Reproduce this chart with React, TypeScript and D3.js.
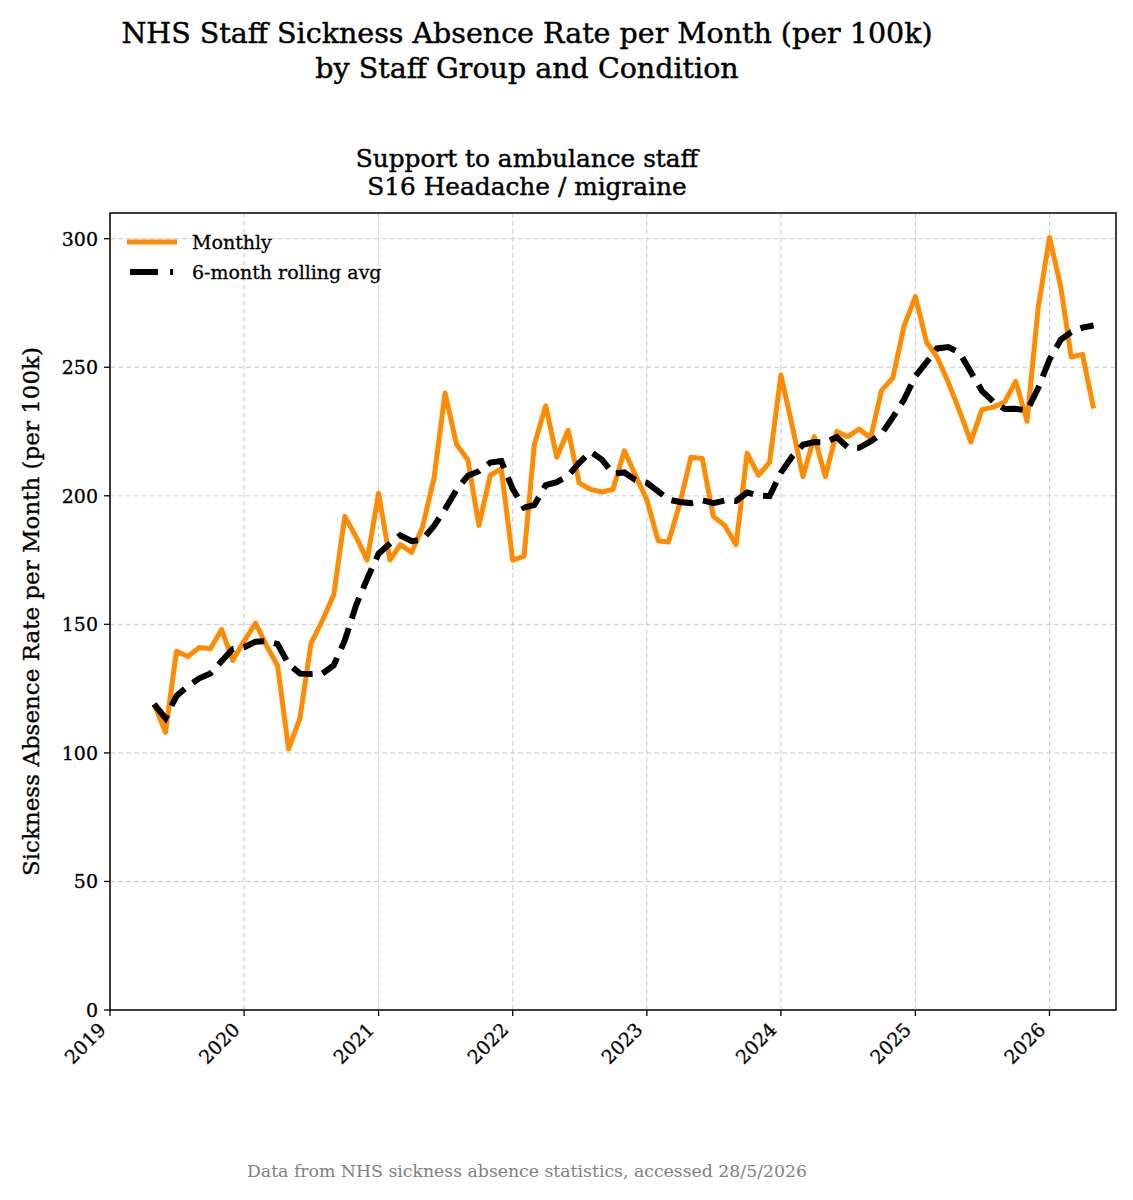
import React from "react";
import * as d3 from "d3";

const START_YEAR = 2019;
const START_MONTH = 4; // May (0-based)
const monthly: number[] = [
  119, 108, 139.5, 137.5, 141, 140.5, 148, 136, 143.5, 150.5, 142, 134,
  101.5, 113.5, 142.5, 151.5, 161.5, 192, 184, 175, 201, 175, 181, 178,
  188, 207, 240, 220, 214, 188.5, 208, 210.5, 175, 176.5, 220, 235,
  215, 225.5, 205, 202.5, 201.5, 202.5, 217.5, 208, 198.5, 182.5, 182, 197,
  215, 214.5, 192, 188.5, 181, 216.5, 208, 213, 247, 227, 207.5, 223,
  207.5, 225, 223, 226, 222.5, 241, 246, 266, 277.5, 259.5, 254, 244,
  233, 221, 233.5, 234.5, 236.5, 244.5, 229, 273, 300.5, 281, 254, 255,
  234,
];
const yTicks: number[] = [0, 50, 100, 150, 200, 250, 300];
const xTickYears: number[] = [2019, 2020, 2021, 2022, 2023, 2024, 2025, 2026];
const ROLL_WINDOW = 6;

const FONT = "'DejaVu Serif', serif";

export default function App() {
  const W = 1133;
  const H = 1200;
  const L = 110, R = 1116, T = 213, B = 1010;

  const dates = monthly.map((_, i) => new Date(START_YEAR, START_MONTH + i, 1));
  const rolling = monthly.map((_, i) => {
    const s = Math.max(0, i - ROLL_WINDOW + 1);
    const w = monthly.slice(s, i + 1);
    return d3.mean(w) as number;
  });

  const x = d3.scaleTime().domain([new Date(2019, 0, 1), new Date(2026, 6, 1)]).range([L, R]);
  const y = d3.scaleLinear().domain([0, 310]).range([B, T]);

  const line = d3
    .line<number>()
    .x((_, i) => x(dates[i]))
    .y((d) => y(d));

  const monthlyPath = line(monthly) || "";
  const rollingPath = line(rolling) || "";

  const gridColor = "#cccccc";
  const heavy = { stroke: "#000", strokeWidth: 0.45 };

  return (
    <svg
      width={W}
      height={H}
      style={{ position: "absolute", left: 0, top: 0, background: "#fff" }}
      fontFamily={FONT}
    >
      <rect x={0} y={0} width={W} height={H} fill="#fff" />
      {/* Titles */}
      <text x={527} y={43} textAnchor="middle" fontSize={28.5} fill="#000" {...heavy}>
        NHS Staff Sickness Absence Rate per Month (per 100k)
      </text>
      <text x={527} y={78} textAnchor="middle" fontSize={28.5} fill="#000" {...heavy}>
        by Staff Group and Condition
      </text>
      <text x={527} y={167} textAnchor="middle" fontSize={24.8} fill="#000" {...heavy}>
        Support to ambulance staff
      </text>
      <text x={527} y={195} textAnchor="middle" fontSize={24.8} fill="#000" {...heavy}>
        S16 Headache / migraine
      </text>

      {/* Grid */}
      <g>
        {yTicks.map((t) => (
          <line key={"gy" + t} x1={L} x2={R} y1={y(t)} y2={y(t)} stroke={gridColor} strokeWidth={1} strokeDasharray="5,3" />
        ))}
        {xTickYears.map((yr) => (
          <line key={"gx" + yr} x1={x(new Date(yr, 0, 1))} x2={x(new Date(yr, 0, 1))} y1={T} y2={B} stroke={gridColor} strokeWidth={1} strokeDasharray="5,3" />
        ))}
      </g>

      {/* Lines */}
      <path d={monthlyPath} fill="none" stroke="#FF8C00" strokeWidth={5} strokeLinejoin="round" />
      <path d={rollingPath} fill="none" stroke="#000" strokeWidth={6} strokeDasharray="22,10" />

      {/* Frame */}
      <rect x={L} y={T} width={R - L} height={B - T} fill="none" stroke="#000" strokeWidth={1.5} />

      {/* Y axis */}
      {yTicks.map((t) => (
        <g key={"ty" + t}>
          <line x1={L - 6} x2={L} y1={y(t)} y2={y(t)} stroke="#000" strokeWidth={1.3} />
          <text x={L - 12} y={y(t)} dy="0.36em" textAnchor="end" fontSize={19} fill="#000" {...heavy} strokeWidth={0.3}>
            {t}
          </text>
        </g>
      ))}
      {/* X axis */}
      {xTickYears.map((yr) => {
        const xp = x(new Date(yr, 0, 1));
        return (
          <g key={"tx" + yr}>
            <line x1={xp} x2={xp} y1={B} y2={B + 6} stroke="#000" strokeWidth={1.3} />
            <text
              transform={`translate(${xp - 3},${B + 21}) rotate(-45)`}
              textAnchor="end"
              fontSize={19}
              fill="#000"
              {...heavy}
              strokeWidth={0.3}
            >
              {yr}
            </text>
          </g>
        );
      })}

      {/* Y label */}
      <text transform={`translate(39,${(T + B) / 2}) rotate(-90)`} textAnchor="middle" fontSize={23} fill="#000" {...heavy} strokeWidth={0.35}>
        Sickness Absence Rate per Month (per 100k)
      </text>

      {/* Legend */}
      <line x1={127} x2={177} y1={242} y2={242} stroke="#FF8C00" strokeWidth={5} />
      <text x={192} y={249} fontSize={19} fill="#000" {...heavy} strokeWidth={0.3}>Monthly</text>
      <line x1={130} x2={174} y1={272} y2={272} stroke="#000" strokeWidth={6} strokeDasharray="28,12,3,100" />
      <text x={192} y={279} fontSize={19} fill="#000" {...heavy} strokeWidth={0.3}>6-month rolling avg</text>

      {/* Footer */}
      <text x={527} y={1177} textAnchor="middle" fontSize={17.3} fill="#808080">
        Data from NHS sickness absence statistics, accessed 28/5/2026
      </text>
    </svg>
  );
}
